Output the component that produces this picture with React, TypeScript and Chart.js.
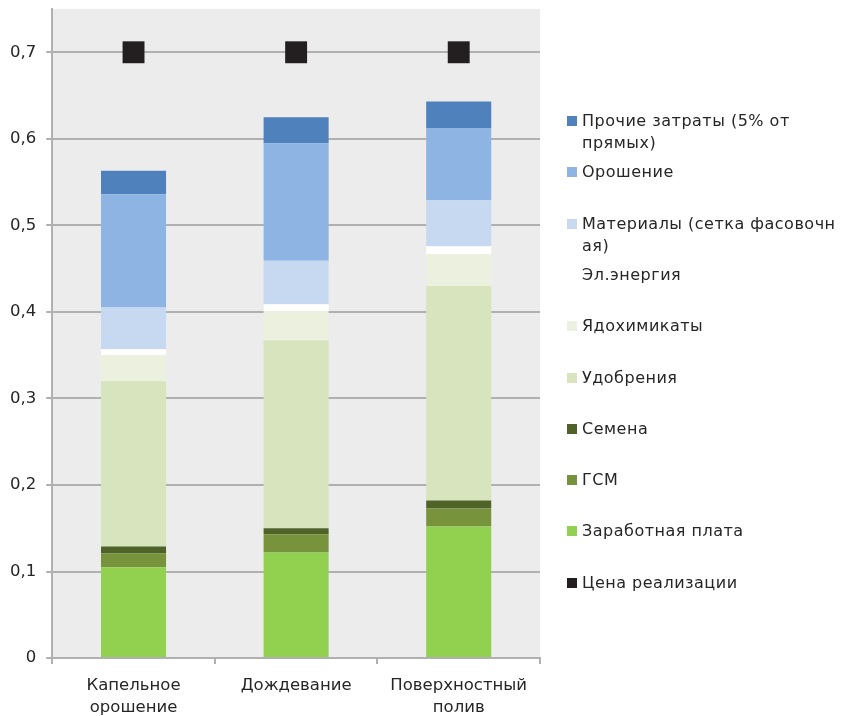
import React, { useEffect, useRef } from 'react';
import { Chart, registerables } from 'chart.js';

Chart.register(...registerables);

const categories: string[][] = [['Капельное', 'орошение'], ['Дождевание'], ['Поверхностный', 'полив']];

const wages = [0.105, 0.122, 0.152];
const fuel = [0.016, 0.021, 0.021];
const seeds = [0.008, 0.007, 0.009];
const fertilizers = [0.191, 0.217, 0.248];
const pesticides = [0.030, 0.034, 0.037];
const electricity = [0.007, 0.008, 0.009];
const materials = [0.048, 0.050, 0.053];
const irrigation = [0.131, 0.136, 0.083];
const otherCosts = [0.027, 0.030, 0.031];
const salePrice = [0.7, 0.7, 0.7];

const seriesNames = [
  'Заработная плата',
  'ГСМ',
  'Семена',
  'Удобрения',
  'Ядохимикаты',
  'Эл.энергия',
  'Материалы (сетка фасовочная)',
  'Орошение',
  'Прочие затраты (5% от прямых)',
];
const seriesValues = [wages, fuel, seeds, fertilizers, pesticides, electricity, materials, irrigation, otherCosts];
const seriesColors = ['#92d050', '#77933c', '#4f6228', '#d7e4bd', '#ebf1de', '#ffffff', '#c6d9f1', '#8eb4e3', '#4f81bd'];
const priceName = 'Цена реализации';
const priceColor = '#231f20';

const legendLines: Record<string, string> = {
  'Прочие затраты (5% от прямых)': 'Прочие затраты (5% от\nпрямых)',
  'Материалы (сетка фасовочная)': 'Материалы (сетка фасовочн\nая)',
};

const FONT = "'DejaVu Sans', sans-serif";
const TEXT = '#262626';

const bgPlugin = {
  id: 'plotBg',
  beforeDraw(chart: any) {
    const { ctx, chartArea } = chart;
    ctx.save();
    ctx.fillStyle = '#ebeceb';
    ctx.fillRect(chartArea.left, chartArea.top, chartArea.right - chartArea.left, chartArea.bottom - chartArea.top);
    ctx.restore();
  },
};

export default function App() {
  const ref = useRef<HTMLCanvasElement | null>(null);

  useEffect(() => {
    document.body.style.margin = '0';
    if (!ref.current) return;
    const datasets: any[] = seriesNames.map((name, i) => ({
      type: 'bar',
      label: name,
      data: seriesValues[i],
      backgroundColor: seriesColors[i],
      borderWidth: 0,
      barPercentage: 0.4,
      categoryPercentage: 1,
    }));
    datasets.push({
      type: 'line',
      label: priceName,
      data: salePrice,
      showLine: false,
      pointStyle: 'rect',
      pointRadius: 15.5,
      pointBackgroundColor: priceColor,
      pointBorderWidth: 0,
      borderColor: priceColor,
      backgroundColor: priceColor,
      clip: false,
    });
    const chart = new Chart(ref.current, {
      type: 'bar',
      data: { labels: categories as any, datasets },
      options: {
        animation: false,
        responsive: false,
        maintainAspectRatio: false,
        layout: { autoPadding: false, padding: { left: 0, top: 9, right: 315, bottom: -14 } },
        plugins: { legend: { display: false }, tooltip: { enabled: false } },
        scales: {
          x: {
            stacked: true,
            grid: { offset: true, drawOnChartArea: false, drawTicks: true, tickLength: 6, color: '#b0b0b0', lineWidth: 2 },
            border: { display: true, color: '#b0b0b0', width: 2 },
            ticks: { color: TEXT, font: { family: FONT, size: 16.5, lineHeight: 1.33 }, padding: 11, maxRotation: 0 },
          },
          y: {
            stacked: true,
            min: 0,
            max: 0.75,
            afterFit: (s: any) => {
              s.paddingTop = 0;
              s.paddingBottom = 0;
            },
            grid: { color: '#b0b0b0', lineWidth: 2, tickLength: 6 },
            border: { display: true, color: '#b0b0b0', width: 2 },
            ticks: {
              stepSize: 0.1,
              includeBounds: false,
              color: TEXT,
              padding: 10,
              font: { family: FONT, size: 16.5 },
              callback: (v: any) => (Number(v) === 0 ? '0' : Number(v).toFixed(1).replace('.', ',')),
            },
          },
        },
      },
      plugins: [bgPlugin],
    });
    return () => chart.destroy();
  }, []);

  const legendItems = [...seriesNames.map((n, i) => ({ name: n, color: seriesColors[i] })).reverse(), { name: priceName, color: priceColor }];

  return (
    <div style={{ position: 'relative', width: 855, height: 716, background: '#fff' }}>
      <canvas ref={ref} width={855} height={716} style={{ display: 'block' }} />
      {legendItems.map((it, i) => (
        <div
          key={it.name}
          style={{
            position: 'absolute',
            left: 567,
            top: 121 + i * 51.3 - 11,
            display: 'flex',
            alignItems: 'flex-start',
            fontFamily: FONT,
            fontSize: 16,
            letterSpacing: '0.5px',
            lineHeight: '22px',
            color: TEXT,
            whiteSpace: 'pre',
          }}
        >
          <span style={{ display: 'inline-block', width: 10, height: 10, background: it.color, marginTop: 6, marginRight: 5, flex: 'none' }} />
          <span>{legendLines[it.name] ?? it.name}</span>
        </div>
      ))}
    </div>
  );
}
